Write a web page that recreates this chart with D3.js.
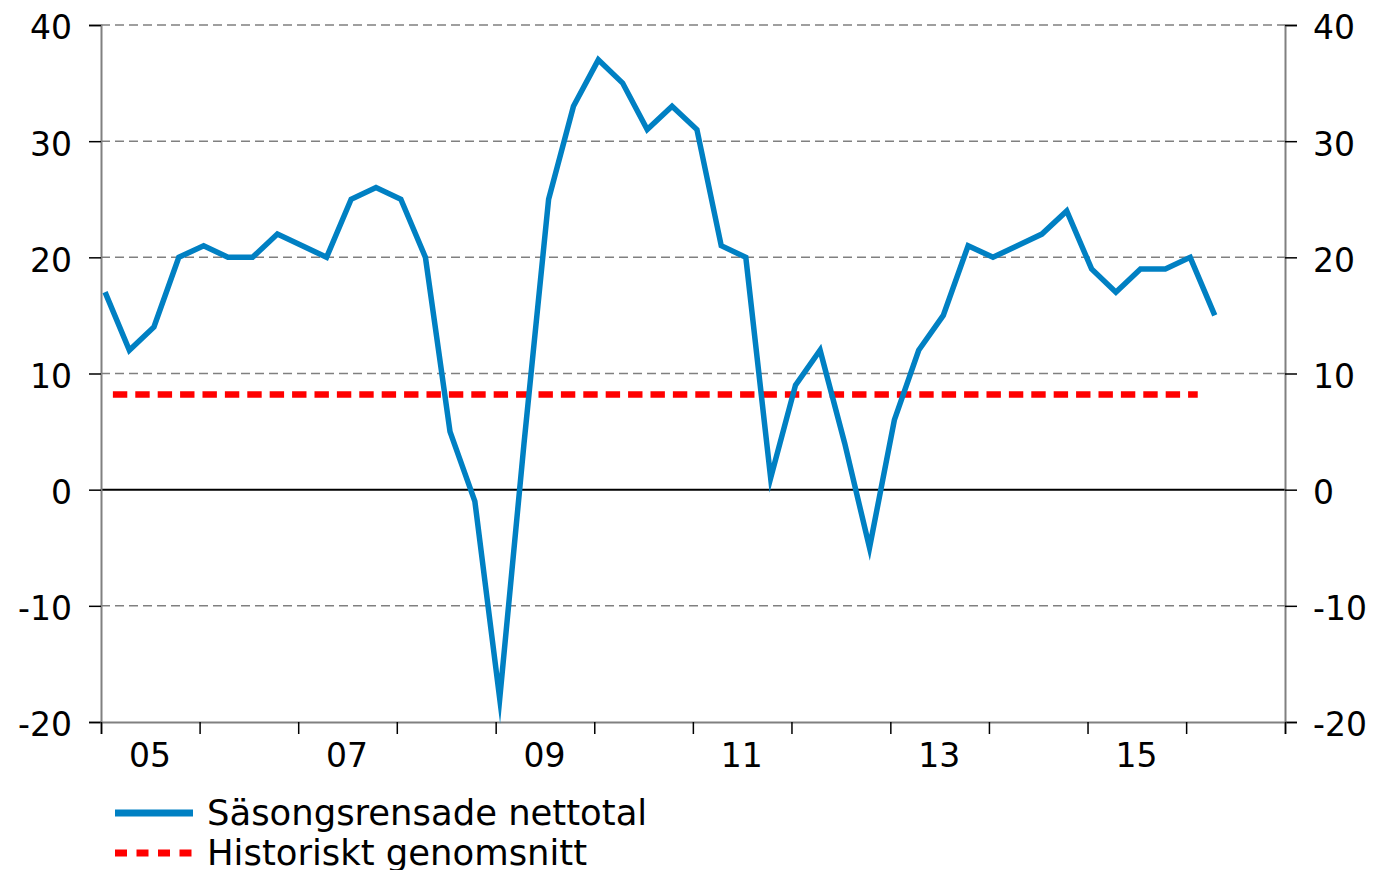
<!DOCTYPE html>
<html>
<head>
<meta charset="utf-8">
<script src="https://cdn.jsdelivr.net/npm/d3@7"></script>
<style>
  html, body { margin: 0; padding: 0; background: #fff; }
  svg { display: block; font-family: "DejaVu Sans", Verdana, sans-serif; }
</style>
</head>
<body>
<svg id="chart" width="1376" height="870"></svg>
<script>
// ---- Data ----
const quarters = [
  "2005Q1","2005Q2","2005Q3","2005Q4",
  "2006Q1","2006Q2","2006Q3","2006Q4",
  "2007Q1","2007Q2","2007Q3","2007Q4",
  "2008Q1","2008Q2","2008Q3","2008Q4",
  "2009Q1","2009Q2","2009Q3","2009Q4",
  "2010Q1","2010Q2","2010Q3","2010Q4",
  "2011Q1","2011Q2","2011Q3","2011Q4",
  "2012Q1","2012Q2","2012Q3","2012Q4",
  "2013Q1","2013Q2","2013Q3","2013Q4",
  "2014Q1","2014Q2","2014Q3","2014Q4",
  "2015Q1","2015Q2","2015Q3","2015Q4",
  "2016Q1","2016Q2"
];
const nettotal = [
  17, 12, 14, 20,
  21, 20, 20, 22,
  21, 20, 25, 26,
  25, 20, 5, -1,
  -18, 4, 25, 33,
  37, 35, 31, 33,
  31, 21, 20, 1,
  9, 12, 4, -5,
  6, 12, 15, 21,
  20, 21, 22, 24,
  19, 17, 19, 19,
  20, 15
];
const historicalAverage = 8.2;
const averagePeriod = ["2005-02-14", "2016-02-13"];
const yTicks = [-20, -10, 0, 10, 20, 30, 40];
const xDomain = ["2005-01-01", "2017-01-01"];
const xLabelYears = [2005, 2007, 2009, 2011, 2013, 2015];
const seriesNames = ["Säsongsrensade nettotal", "Historiskt genomsnitt"];

// ---- Layout ----
const m = { left: 101, right: 1285, top: 25, bottom: 722 };
const BLUE = "#0080c3", RED = "#ff0000", GRID = "#808080";

const svg = d3.select("#chart");
const parseDay = d3.timeParse("%Y-%m-%d");
const qDate = q => new Date(+q.slice(0, 4), (+q.slice(5) - 1) * 3, 16);

const x = d3.scaleTime().domain(xDomain.map(parseDay)).range([m.left, m.right]);
const y = d3.scaleLinear().domain([-20, 40]).range([m.bottom, m.top]);

// gridlines
svg.append("g").selectAll("line")
  .data(yTicks.filter(v => v !== 0 && v !== -20))
  .join("line")
  .attr("x1", m.left).attr("x2", m.right)
  .attr("y1", d => y(d)).attr("y2", d => y(d))
  .attr("stroke", GRID).attr("stroke-width", 1.5)
  .attr("stroke-dasharray", "9,5");

// zero line
svg.append("line")
  .attr("x1", m.left).attr("x2", m.right)
  .attr("y1", y(0)).attr("y2", y(0))
  .attr("stroke", "#000").attr("stroke-width", 2);

// axes
const fontSize = 33;
const fmt = d => String(d);
function styleAxis(g) {
  g.select(".domain").attr("stroke", GRID).attr("stroke-width", 2);
  g.selectAll(".tick line").attr("stroke", "#000").attr("stroke-width", 1.5);
  g.selectAll(".tick text").attr("fill", "#000").attr("font-size", fontSize)
    .attr("font-family", "DejaVu Sans, Verdana, sans-serif");
}

const yLeft = svg.append("g").attr("transform", `translate(${m.left},0)`)
  .call(d3.axisLeft(y).tickValues(yTicks).tickSize(12).tickPadding(17).tickFormat(fmt));
styleAxis(yLeft);
yLeft.selectAll(".tick text").attr("dy", "0.42em");

const yRight = svg.append("g").attr("transform", `translate(${m.right},0)`)
  .call(d3.axisRight(y).tickValues(yTicks).tickSize(12).tickPadding(16).tickFormat(fmt));
styleAxis(yRight);
yRight.selectAll(".tick text").attr("dy", "0.42em");

const xAxis = svg.append("g").attr("transform", `translate(0,${m.bottom})`)
  .call(d3.axisBottom(x).ticks(d3.timeYear.every(1)).tickSize(12).tickFormat(""));
styleAxis(xAxis);

svg.append("g").selectAll("text")
  .data(xLabelYears)
  .join("text")
  .attr("x", d => x(new Date(d, 6, 1)))
  .attr("y", m.bottom + 45)
  .attr("text-anchor", "middle")
  .attr("font-size", fontSize)
  .attr("fill", "#000")
  .text(d => d3.timeFormat("%y")(new Date(d, 0, 1)));

// historical average
svg.append("line")
  .attr("x1", x(parseDay(averagePeriod[0])))
  .attr("x2", x(parseDay(averagePeriod[1])))
  .attr("y1", y(historicalAverage)).attr("y2", y(historicalAverage))
  .attr("stroke", RED).attr("stroke-width", 6.5)
  .attr("stroke-dasharray", "14.4,8");

// main series
const series = quarters.map((q, i) => ({ date: qDate(q), value: nettotal[i] }));
svg.append("path")
  .datum(series)
  .attr("fill", "none")
  .attr("stroke", BLUE)
  .attr("stroke-width", 5.5)
  .attr("stroke-linejoin", "miter")
  .attr("stroke-miterlimit", 10)
  .attr("d", d3.line().x(d => x(d.date)).y(d => y(d.value)));

// legend
const legend = svg.append("g");
const legY = [813, 853];
legend.append("line")
  .attr("x1", 115).attr("x2", 193).attr("y1", legY[0]).attr("y2", legY[0])
  .attr("stroke", BLUE).attr("stroke-width", 7);
legend.append("line")
  .attr("x1", 115).attr("x2", 193).attr("y1", legY[1]).attr("y2", legY[1])
  .attr("stroke", RED).attr("stroke-width", 7)
  .attr("stroke-dasharray", "12,9.5");
legend.selectAll("text")
  .data(seriesNames)
  .join("text")
  .attr("x", 207)
  .attr("y", (d, i) => legY[i] + 12)
  .attr("font-size", 35.4)
  .attr("fill", "#000")
  .text(d => d);
</script>
</body>
</html>
